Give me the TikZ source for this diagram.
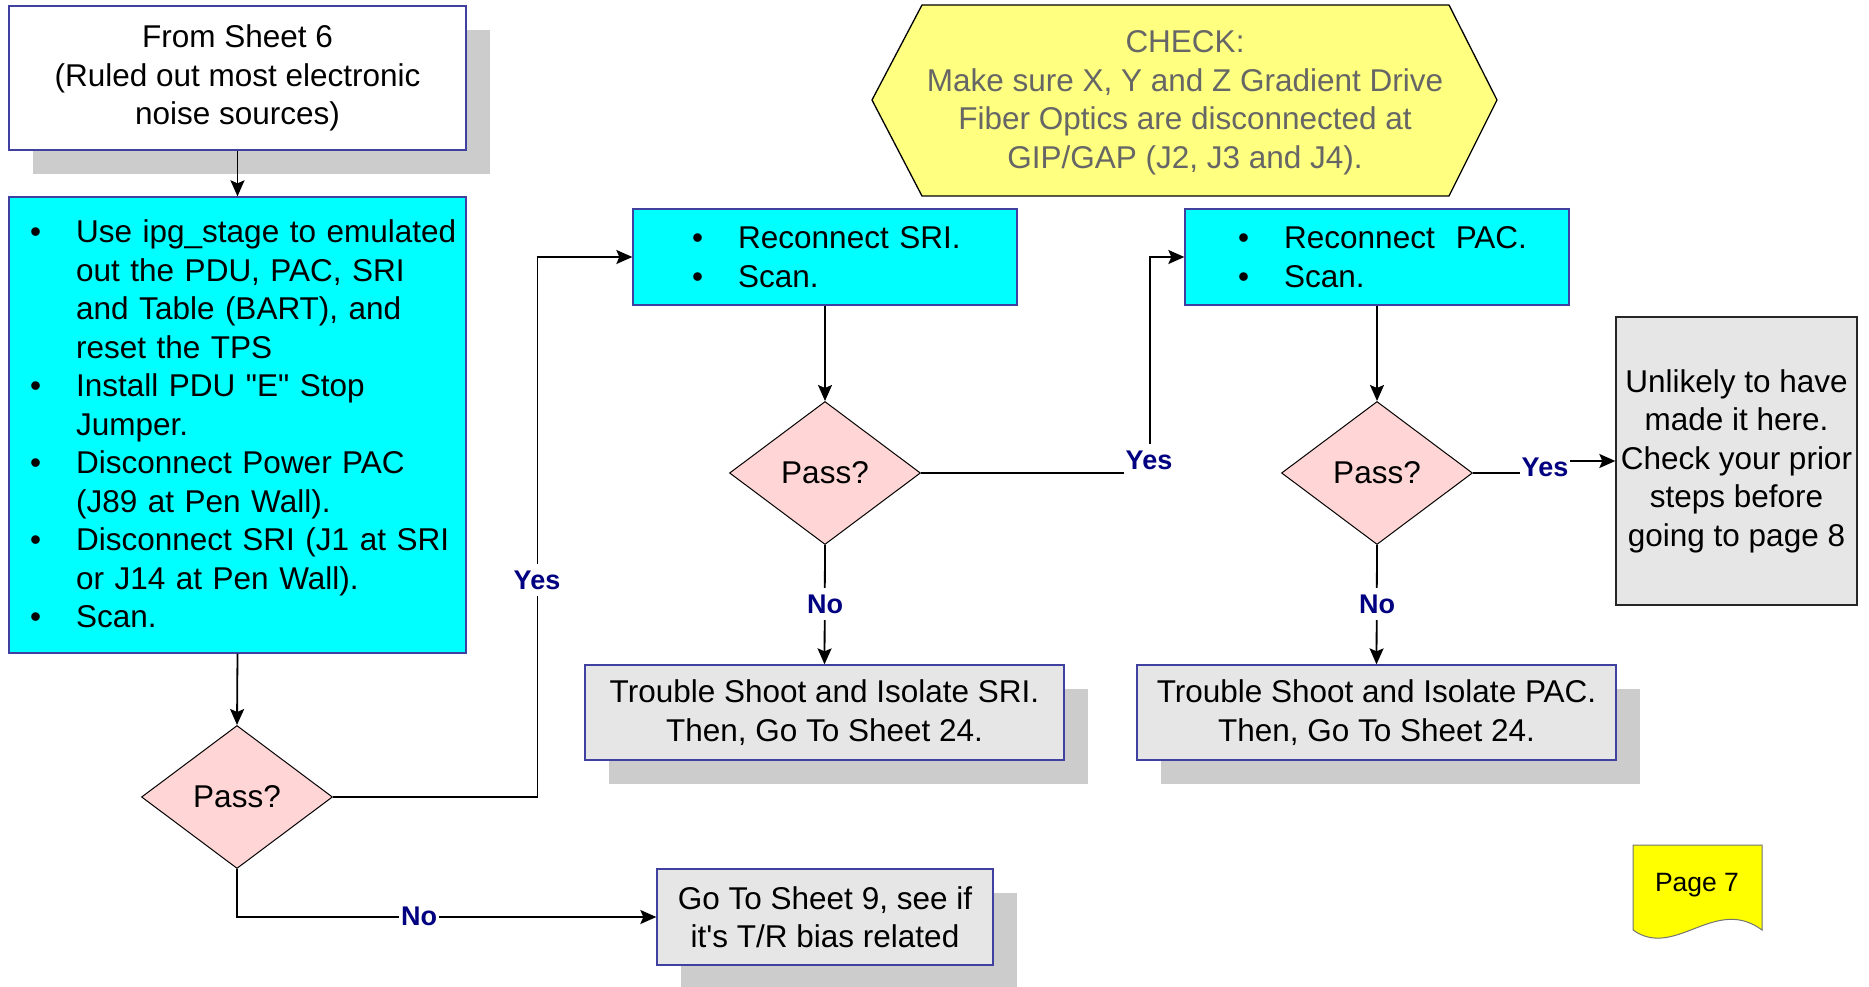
\documentclass[tikz,border=0pt]{standalone}
\usepackage{fontspec}
\setmainfont{Liberation Sans}
\usetikzlibrary{shapes.geometric,arrows.meta,shadows}
\definecolor{boxblue}{RGB}{64,64,160}
\definecolor{shadowgray}{RGB}{204,204,204}
\definecolor{boxgray}{RGB}{230,230,230}
\definecolor{boxcyan}{RGB}{0,255,255}
\definecolor{diapink}{RGB}{255,213,213}
\definecolor{hexyellow}{RGB}{255,255,128}
\definecolor{hextext}{RGB}{102,102,102}
\definecolor{lblnavy}{RGB}{0,0,128}
\definecolor{pageyellow}{RGB}{255,255,0}
\newcommand{\bl}{\leavevmode\llap{\textbullet\hspace{35pt}}}
\begin{document}
\begin{tikzpicture}[x=1pt,y=-1pt,
  every node/.style={font=\fontsize{31.5}{38.5}\selectfont},
  box/.style={draw=boxblue, line width=1.3pt, rectangle, inner sep=0pt, align=center},
  shadowed/.style={general shadow={fill=shadowgray, shadow xshift=24pt, shadow yshift=-24pt}},
  dia/.style={diamond, draw=black, line width=1pt, fill=diapink, inner sep=0pt, minimum width=191pt, minimum height=143pt},
  conn/.style={draw=black, line width=1.8pt, -{Stealth[length=16pt,width=14pt,inset=3pt]}},
  lbl/.style={font=\fontsize{27}{30}\selectfont\bfseries, text=lblnavy, fill=white, inner xsep=2pt, inner ysep=7pt},
  bullettext/.style={anchor=base west, text width=420pt, align=left, inner sep=0pt}
]
\useasboundingbox (0,0) rectangle (1869,987);

% boxes
\node[box, shadowed, fill=white, minimum width=457pt, minimum height=144pt] (start) at (237.5,78)
  {From Sheet 6\\(Ruled out most electronic\\noise sources)};
\node[box, fill=boxcyan, minimum width=457pt, minimum height=456pt] (cyan) at (237.5,425) {};
\node[bullettext] (cyantext) at (76,243)
  {\bl Use ipg\_stage to emulated\\out the PDU, PAC, SRI\\and Table (BART), and\\reset the TPS\\
   \bl Install PDU \textquotedbl E\textquotedbl\ Stop\\Jumper.\\
   \bl Disconnect Power PAC\\(J89 at Pen Wall).\\
   \bl Disconnect SRI (J1 at SRI\\or J14 at Pen Wall).\\
   \bl Scan.};

\node[dia] (d1) at (237,797) {Pass?};
\node[box, shadowed, fill=boxgray, minimum width=336pt, minimum height=96pt] (goto) at (825,917)
  {Go To Sheet 9, see if\\it\textquotesingle s T/R bias related};

\node[box, fill=boxcyan, minimum width=384pt, minimum height=96pt] (sri) at (825,257) {};
\node[bullettext] (sritext) at (738,249) {\bl Reconnect SRI.\\\bl Scan.};
\node[dia] (d2) at (825,473) {Pass?};
\node[box, shadowed, fill=boxgray, minimum width=479pt, minimum height=95pt] (tsri) at (824.5,712.5)
  {Trouble Shoot and Isolate SRI.\\Then, Go To Sheet 24.};

\node[box, fill=boxcyan, minimum width=384pt, minimum height=96pt] (pac) at (1377,257) {};
\node[bullettext] (pactext) at (1284,249) {\bl Reconnect\ \ PAC.\\\bl Scan.};
\node[dia] (d3) at (1377,473) {Pass?};
\node[box, shadowed, fill=boxgray, minimum width=479pt, minimum height=95pt] (tpac) at (1376.5,712.5)
  {Trouble Shoot and Isolate PAC.\\Then, Go To Sheet 24.};

\node[draw=black!85, line width=1.3pt, fill=boxgray, inner sep=0pt, align=center,
      minimum width=241pt, minimum height=288pt] (unl) at (1736.5,461)
  {Unlikely to have\\made it here.\\Check your prior\\steps before\\going to page 8};

% check hexagon
\draw[draw=black, line width=1.3pt, fill=hexyellow]
  (872,100) -- (922,5) -- (1449,5) -- (1497,100) -- (1449,196) -- (922,196) -- cycle;
\node[text=hextext, align=center, inner sep=0pt] (check) at (1185,103)
  {CHECK:\\Make sure X, Y and Z Gradient Drive\\Fiber Optics are disconnected at\\GIP/GAP (J2, J3 and J4).};

% page 7
\draw[draw=black!55, line width=1pt, fill=pageyellow]
  (1633,845) -- (1762,845) -- (1762,930) .. controls (1715,895) and (1675,960) .. (1633,930) -- cycle;
\node[anchor=base, font=\fontsize{26.5}{30}\selectfont, inner sep=0pt] (page) at (1697,891) {Page 7};

% connectors
\draw[conn] (start.south) -- (cyan.north);
\draw[conn] (cyan.south) -- (d1.north);
\draw[conn] (d1.east) -- ++(204.5,0) |- (sri.west);
\draw[conn] (d1.south) |- (goto.west);
\draw[conn] (sri.south) -- (d2.north);
\draw[conn] (d2.south) -- (tsri.north);
\draw[conn] (d2.east) -- ++(229,0) |- (pac.west);
\draw[conn] (pac.south) -- (d3.north);
\draw[conn] (d3.south) -- (tpac.north);
\draw[conn] (d3.east) -- ++(72.5,0) |- (unl.west);

% labels
\node[lbl] (yes1) at (537,580) {Yes};
\node[lbl] (no1) at (419,916) {No};
\node[lbl] (yes2) at (1149,460) {Yes};
\node[lbl] (no2) at (825,604) {No};
\node[lbl] (yes3) at (1545,467) {Yes};
\node[lbl] (no3) at (1377,604) {No};
\end{tikzpicture}
\end{document}
